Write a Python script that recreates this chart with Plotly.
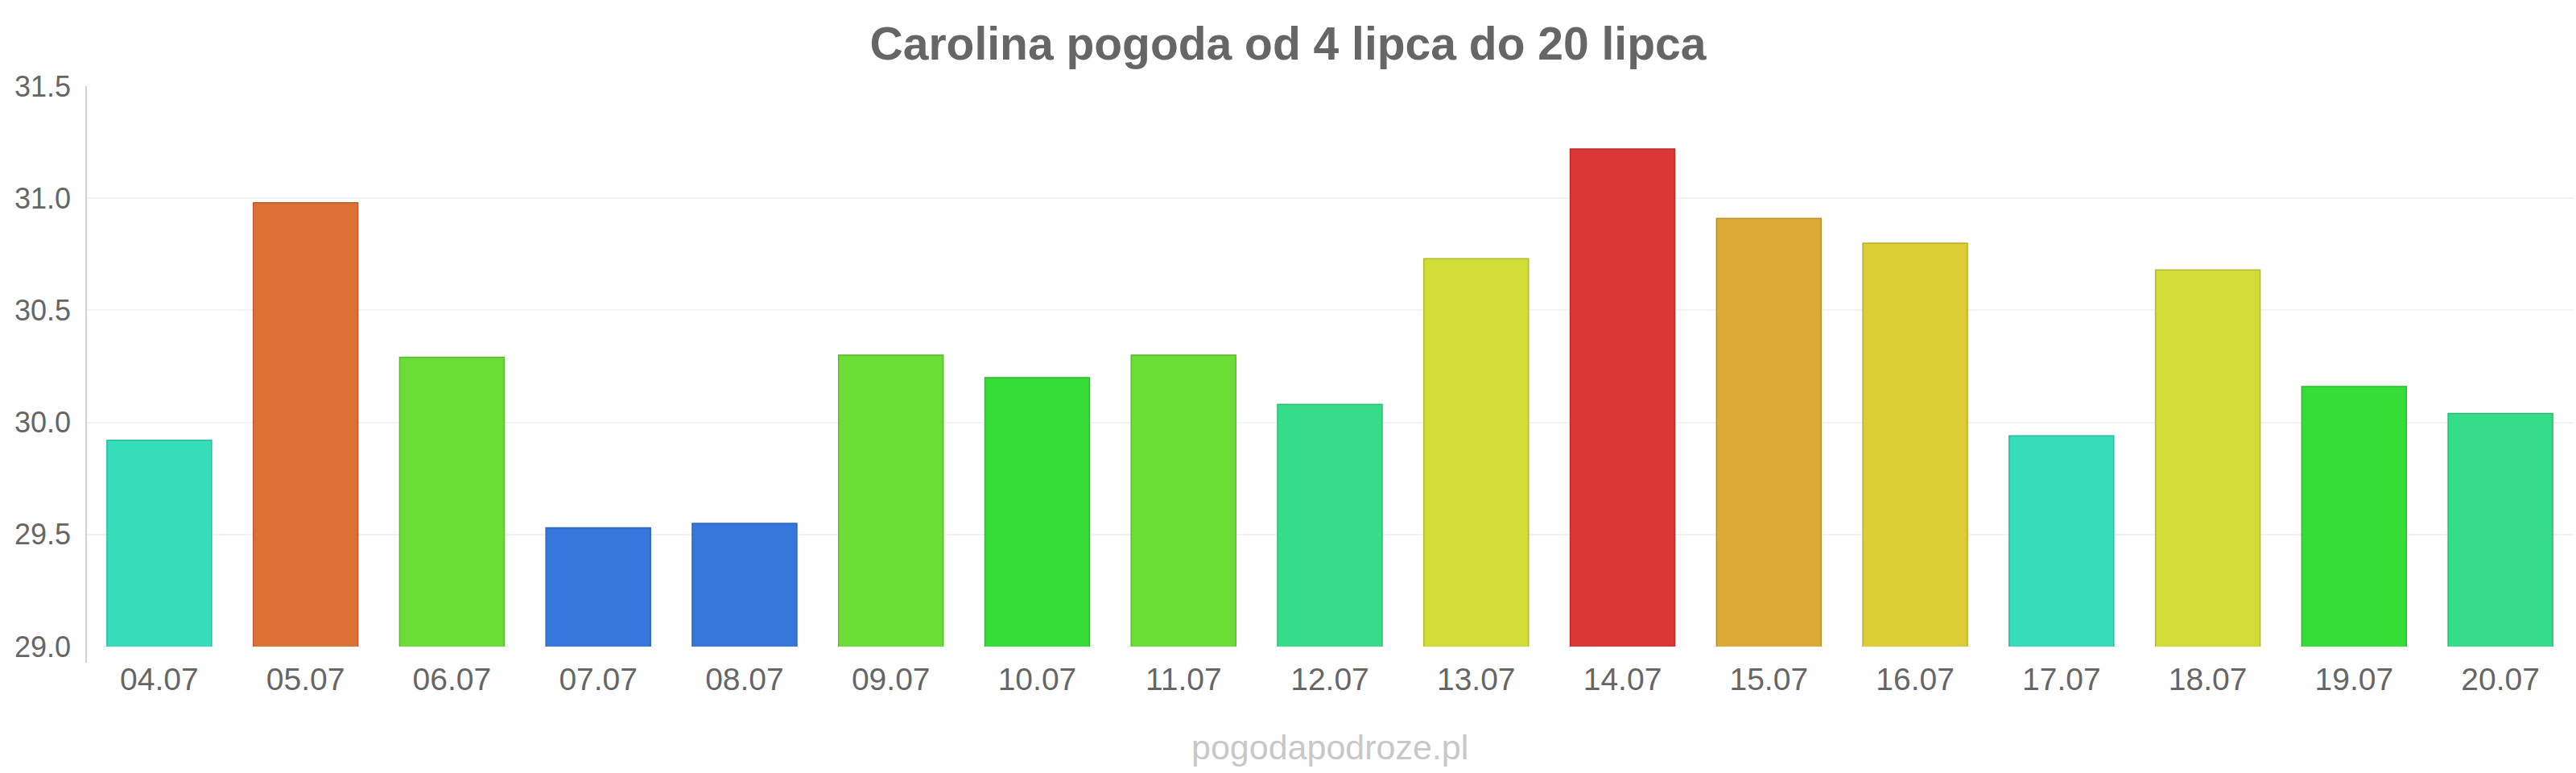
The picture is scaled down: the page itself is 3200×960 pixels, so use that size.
import plotly.graph_objects as go

dates = ["04.07", "05.07", "06.07", "07.07", "08.07", "09.07", "10.07", "11.07", "12.07",
         "13.07", "14.07", "15.07", "16.07", "17.07", "18.07", "19.07", "20.07"]
temps = [29.92, 30.98, 30.29, 29.53, 29.55, 30.30, 30.20, 30.30, 30.08,
         30.73, 31.22, 30.91, 30.80, 29.94, 30.68, 30.16, 30.04]

bar_colors = ["#36DDBA", "#DC7035", "#6CDD37", "#3677DD", "#3677DD", "#6CDD37", "#36DD37",
              "#6CDD37", "#36DD88", "#CFDD36", "#DC3636", "#DCAB36", "#DCCC36", "#36DDBA",
              "#CFDD36", "#36DD37", "#36DD88"]


def darker(h, f=0.85):
    h = h.lstrip("#")
    r, g, b = (int(h[i:i + 2], 16) for i in (0, 2, 4))
    return "#%02X%02X%02X" % (int(r * f), int(g * f), int(b * f))


border_colors = [darker(c) for c in bar_colors]

fig = go.Figure()
fig.add_trace(go.Bar(
    x=dates, y=temps,
    marker=dict(color=bar_colors, line=dict(color=border_colors, width=1.5)),
))

W, H = 3200, 960
top, bottom = 107, 803
fig.update_layout(
    width=W, height=H,
    margin=dict(l=107, r=3, t=top, b=H - bottom),
    paper_bgcolor="white", plot_bgcolor="white",
    bargap=0.285,
    showlegend=False,
    font=dict(family="Liberation Sans, Arial, sans-serif", color="#666666"),
    title=dict(
        text="<b>Carolina pogoda od 4 lipca do 20 lipca</b>",
        x=0.5, xanchor="center", xref="container",
        y=1 - 54 / H, yanchor="middle", yref="container",
        font=dict(size=57, color="#666666", family="Liberation Sans, Arial, sans-serif"),
    ),
    xaxis=dict(
        showgrid=False, showline=False, zeroline=False, ticks="",
        tickfont=dict(size=39, color="#666666"),
        ticklabelstandoff=14,
    ),
    yaxis=dict(
        range=[29, 31.5], dtick=0.5, tick0=29, tickformat=".1f",
        showgrid=True, gridcolor="#F3F3F3", gridwidth=2,
        showline=False, zeroline=False, ticks="",
        tickfont=dict(size=36, color="#666666"),
        ticklabelstandoff=18,
    ),
    shapes=[dict(
        type="line", xref="paper", yref="paper",
        x0=0, x1=0, y0=-(823 - bottom) / (bottom - top), y1=1,
        line=dict(color="#C0C0C0", width=1.5),
    )],
    annotations=[dict(
        text="pogodapodroze.pl", showarrow=False,
        xref="paper", yref="paper", x=0.5, xanchor="center",
        y=-(928 - bottom) / (bottom - top), yanchor="middle",
        font=dict(size=43, color="#C8C8C8", family="Liberation Sans, Arial, sans-serif"),
    )],
)

fig.write_html("out.html")
